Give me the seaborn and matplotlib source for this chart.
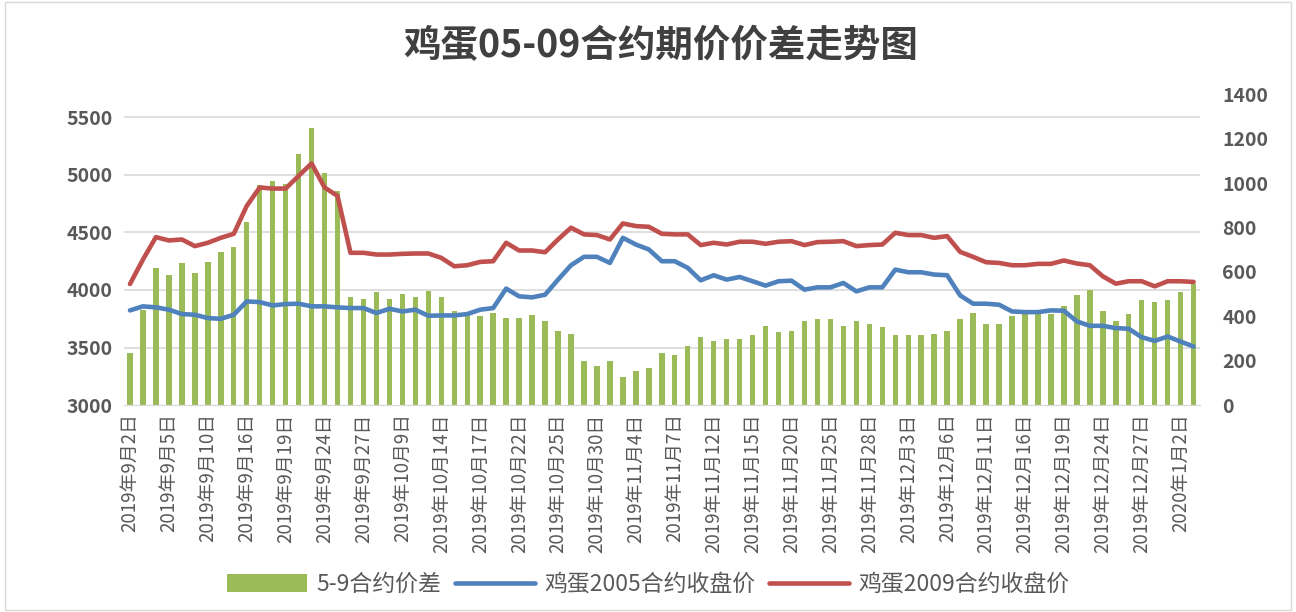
import numpy as np
import pandas as pd
import matplotlib
matplotlib.use('Agg')
import matplotlib.pyplot as plt
import seaborn as sns
from matplotlib.patches import Rectangle
from matplotlib.lines import Line2D
from matplotlib.patches import Patch

sns.set_style('white')
plt.rcParams['font.family'] = ['Noto Sans CJK SC', 'DejaVu Sans']
plt.rcParams['axes.unicode_minus'] = False

# 交易日
sep = [2, 3, 4, 5, 6, 9, 10, 11, 12, 16, 17, 18, 19, 20, 23, 24, 25, 26, 27, 30]
oct_ = [8, 9, 10, 11, 14, 15, 16, 17, 18, 21, 22, 23, 24, 25, 28, 29, 30, 31]
nov = [1, 4, 5, 6, 7, 8, 11, 12, 13, 14, 15, 18, 19, 20, 21, 22, 25, 26, 27, 28, 29]
dec = [2, 3, 4, 5, 6, 9, 10, 11, 12, 13, 16, 17, 18, 19, 20, 23, 24, 25, 26, 27, 30, 31]
jan = [2, 3]
dates = ([f'2019年9月{d}日' for d in sep] + [f'2019年10月{d}日' for d in oct_] +
         [f'2019年11月{d}日' for d in nov] + [f'2019年12月{d}日' for d in dec] +
         [f'2020年1月{d}日' for d in jan])

# 5-9合约价差
spread = [234, 430, 618, 588, 639, 596, 645, 689, 712, 826,
          992, 1009, 998, 1131, 1247, 1044, 965, 486, 480, 508,
          480, 502, 487, 516, 487, 422, 404, 400, 415, 392,
          392, 407, 380, 335, 320, 199, 176, 199, 125, 154,
          169, 234, 226, 268, 306, 291, 299, 299, 314, 357,
          329, 336, 380, 386, 386, 357, 380, 365, 350, 314,
          314, 314, 321, 336, 386, 416, 365, 365, 401, 409,
          409, 409, 445, 496, 517, 422, 380, 409, 474, 466,
          474, 510, 547]

# 鸡蛋2005合约收盘价
c2005 = [3823, 3858, 3849, 3829, 3791, 3785, 3756, 3750, 3785, 3901,
         3895, 3866, 3878, 3881, 3858, 3858, 3849, 3843, 3843, 3800,
         3837, 3814, 3829, 3776, 3779, 3779, 3791, 3829, 3843, 4012,
         3945, 3936, 3959, 4090, 4215, 4288, 4288, 4235, 4453, 4395,
         4352, 4250, 4250, 4192, 4084, 4128, 4090, 4113, 4076, 4038,
         4076, 4081, 4003, 4023, 4023, 4061, 3988, 4023, 4023, 4177,
         4154, 4154, 4134, 4128, 3953, 3881, 3881, 3872, 3814, 3808,
         3808, 3823, 3820, 3727, 3689, 3689, 3669, 3663, 3590, 3558,
         3596, 3552, 3509]

# 鸡蛋2009合约收盘价
c2009 = [4052, 4265, 4459, 4430, 4439, 4381, 4410, 4453, 4488, 4730,
         4890, 4881, 4881, 4991, 5099, 4890, 4817, 4323, 4323, 4308,
         4308, 4314, 4317, 4317, 4279, 4206, 4215, 4244, 4250, 4410,
         4343, 4343, 4328, 4439, 4541, 4483, 4477, 4439, 4578, 4555,
         4549, 4488, 4483, 4483, 4390, 4410, 4395, 4419, 4419, 4401,
         4419, 4424, 4390, 4416, 4419, 4424, 4381, 4390, 4395, 4497,
         4477, 4477, 4453, 4468, 4331, 4288, 4241, 4235, 4215, 4215,
         4227, 4227, 4256, 4230, 4215, 4119, 4055, 4076, 4076, 4032,
         4076, 4076, 4070]

left_ticks = [3000, 3500, 4000, 4500, 5000, 5500]
right_ticks = [0, 200, 400, 600, 800, 1000, 1200, 1400]
left_lim = (3000, 5700)
right_lim = (0, 1400)

green = '#9bbb59'
blue = '#4f81bd'
red = '#c0504d'
gray = '#595959'

df = pd.DataFrame({'date': dates, 'idx': range(len(dates)),
                   'spread': spread, 'c2005': c2005, 'c2009': c2009})

fig = plt.figure(figsize=(12.96, 6.12), dpi=100)
ax = fig.add_axes([0.0953, 0.338, 0.8307, 0.508])
ax2 = ax.twinx()

# 柱状图 - 次坐标轴
sns.barplot(data=df, x='date', y='spread', ax=ax2, color=green, saturation=1,
            width=0.42, linewidth=0)
# 折线 - 主坐标轴
sns.lineplot(data=df, x='idx', y='c2005', ax=ax, color=blue, linewidth=3.3)
sns.lineplot(data=df, x='idx', y='c2009', ax=ax, color=red, linewidth=3.3)

ax.set_zorder(ax2.get_zorder() + 1)
ax.patch.set_visible(False)

ax.set_ylim(*left_lim)
ax2.set_ylim(*right_lim)
ax.set_xlim(-0.5, len(dates) - 0.5)

ax.set_yticks(left_ticks)
ax.set_yticklabels([str(v) for v in left_ticks])
ax2.set_yticks(right_ticks)
ax2.set_yticklabels([str(v) for v in right_ticks])

# 网格线对齐主坐标轴刻度, 画在柱子下面
grid_pos = [(v - left_lim[0]) / (left_lim[1] - left_lim[0]) * right_lim[1] for v in left_ticks]
ax2.set_yticks(grid_pos, minor=True)
ax2.yaxis.grid(True, which='minor', color='#d9d9d9', linewidth=1.2)
ax2.yaxis.grid(False, which='major')
ax2.set_axisbelow(True)

ax.set_xticks(range(0, len(dates), 3))
ax.set_xticklabels(dates[::3], rotation=90, fontsize=13.5, color=gray)
ax2.tick_params(axis='x', bottom=False, labelbottom=False)

ax.tick_params(axis='y', labelsize=14, colors=gray, length=0, pad=8)
ax2.tick_params(axis='y', which='both', labelsize=14, colors=gray, length=0, pad=16)
ax.tick_params(axis='x', length=0, pad=6)
for t in ax.get_yticklabels() + ax2.get_yticklabels():
    t.set_fontweight('bold')

for a in (ax, ax2):
    for s in ['top', 'left', 'right']:
        a.spines[s].set_visible(False)
    a.spines['bottom'].set_color('#d9d9d9')
    a.set_xlabel('')
    a.set_ylabel('')

fig.text(0.51, 0.925, '鸡蛋05-09合约期价价差走势图', ha='center', va='center',
         fontsize=27, fontweight='bold', color='#404040')

handles = [Patch(facecolor=green, edgecolor='none'),
           Line2D([0], [0], color=blue, linewidth=3.3),
           Line2D([0], [0], color=red, linewidth=3.3)]
labels = ['5-9合约价差', '鸡蛋2005合约收盘价', '鸡蛋2009合约收盘价']
leg = fig.legend(handles, labels, loc='center', bbox_to_anchor=(0.5, 0.045), ncol=3,
                 frameon=False, fontsize=16.5, handlelength=3.5, handleheight=0.8,
                 columnspacing=0.6, handletextpad=0.4)
for t in leg.get_texts():
    t.set_color(gray)

fig.patches.append(Rectangle((0.004, 0.003), 0.992, 0.994, transform=fig.transFigure,
                             fill=False, edgecolor='#d9d9d9', linewidth=1))

fig.savefig('out.png', dpi=100)
